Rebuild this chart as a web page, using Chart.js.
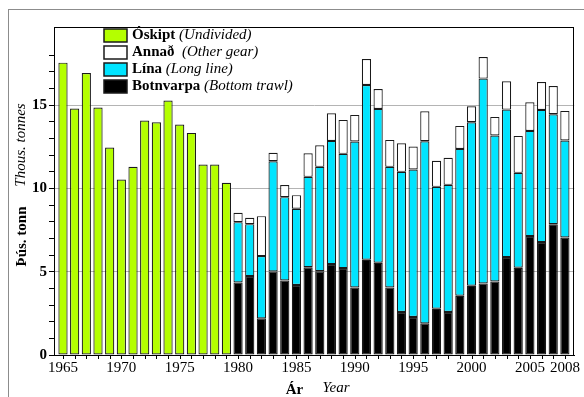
<!DOCTYPE html>
<html>
<head>
<meta charset="utf-8">
<script src="https://cdn.jsdelivr.net/npm/chart.js@4/dist/chart.umd.min.js"></script>
<style>
  html, body { margin: 0; padding: 0; background: #fff; }
  #wrap { position: relative; width: 584px; height: 397px; overflow: hidden; }
  #frame { position: absolute; left: 8px; top: 9px; width: 700px; height: 500px;
           border-left: 1px solid #8c8c8c; border-top: 1px solid #8c8c8c; }
  canvas { position: absolute; left: 0; top: 0; }
</style>
</head>
<body>
<div id="wrap">
  <div id="frame"></div>
  <canvas id="chart" width="584" height="397"></canvas>
</div>
<script>
// Ár / Year
const yearsOskipt = [1965, 1966, 1967, 1968, 1969, 1970, 1971, 1972, 1973, 1974, 1975, 1976, 1977, 1978, 1979];
const yearsGear = [1980, 1981, 1982, 1983, 1984, 1985, 1986, 1987, 1988, 1989, 1990, 1991, 1992, 1993, 1994,
                   1995, 1996, 1997, 1998, 1999, 2000, 2001, 2002, 2003, 2004, 2005, 2006, 2007, 2008];
const yearLabels = [1965, 1970, 1975, 1980, 1985, 1990, 1995, 2000, 2005, 2008];

// þús. tonn
const oskipt = [17.56, 14.80, 16.94, 14.86, 12.46, 10.54, 11.30, 14.08, 13.98, 15.28, 13.84, 13.34, 11.44, 11.44, 10.34];
const botnvarpa = [4.36, 4.74, 2.20, 5.02, 4.48, 4.20, 5.27, 5.03, 5.46, 5.22, 4.06, 5.72, 5.54, 4.06, 2.58,
                   2.28, 1.90, 2.78, 2.58, 3.56, 4.16, 4.30, 4.42, 5.88, 5.24, 7.14, 6.78, 7.86, 7.06];
const lina = [3.62, 3.12, 3.74, 6.62, 5.00, 4.58, 5.43, 6.27, 7.40, 6.86, 8.76, 10.50, 9.24, 7.24, 8.42,
              8.86, 10.94, 7.32, 7.64, 8.82, 9.82, 12.30, 8.76, 8.86, 5.70, 6.32, 7.94, 6.60, 5.82];
const annad = [0.56, 0.38, 2.40, 0.50, 0.73, 0.82, 1.42, 1.30, 1.66, 2.04, 1.60, 1.56, 1.20, 1.62, 1.72,
               1.38, 1.80, 1.56, 1.62, 1.38, 0.96, 1.30, 1.12, 1.70, 2.22, 1.72, 1.68, 1.70, 1.78];

const serif = "'Liberation Serif', 'Times New Roman', serif";
const edge = '#1a1a1a';
const allYears = yearsOskipt.concat(yearsGear);

function pts(xs, ys) {
  return xs.map((x, i) => ({ x: x, y: ys[i] }));
}

const legendItems = [
  { name: 'Óskipt', en: '(Undivided)', color: '#b4ff00' },
  { name: 'Annað', en: ' (Other gear)', color: '#ffffff' },
  { name: 'Lína', en: '(Long line)', color: '#00e4ff' },
  { name: 'Botnvarpa', en: '(Bottom trawl)', color: '#000000' }
];

// legend, titles, x tick marks and the frame of the plot
const decor = {
  id: 'decor',
  afterDraw(chart) {
    const ctx = chart.ctx;
    const a = chart.chartArea;
    const xs = chart.scales.x;
    ctx.save();
    ctx.strokeStyle = '#000';
    ctx.lineWidth = 1;
    ctx.strokeRect(Math.round(a.left) + 0.5, Math.round(a.top) + 0.5,
                   Math.round(a.right - a.left) - 1, Math.round(a.bottom - a.top));

    // tick marks below the x axis, one per year
    ctx.beginPath();
    allYears.forEach(yr => {
      const px = Math.round(xs.getPixelForValue(yr)) + 0.5;
      ctx.moveTo(px, a.bottom);
      ctx.lineTo(px, a.bottom + 4);
    });
    ctx.stroke();

    ctx.fillStyle = '#000';
    ctx.textBaseline = 'middle';
    legendItems.forEach((it, i) => {
      const cy = 35.5 + i * 17;
      ctx.fillStyle = it.color;
      ctx.fillRect(104, cy - 6.5, 23, 13);
      ctx.lineWidth = 1.5;
      ctx.strokeStyle = edge;
      ctx.strokeRect(104, cy - 6.5, 23, 13);
      ctx.fillStyle = '#000';
      ctx.textAlign = 'left';
      ctx.font = 'bold 15px ' + serif;
      ctx.fillText(it.name, 132, cy);
      const w = ctx.measureText(it.name + ' ').width;
      ctx.font = 'italic 15px ' + serif;
      ctx.fillText(it.en, 132 + w, cy);
    });

    // y title
    ctx.save();
    ctx.translate(21, 0);
    ctx.rotate(-Math.PI / 2);
    ctx.textAlign = 'center';
    ctx.font = 'bold 15px ' + serif;
    ctx.fillText('Þús. tonn', -236.5, 1);
    ctx.font = 'italic 15px ' + serif;
    ctx.fillText('Thous. tonnes', -145, 0);
    ctx.restore();

    // x title
    ctx.textAlign = 'center';
    ctx.font = 'bold 15px ' + serif;
    ctx.fillText('Ár', 294.5, 390);
    ctx.font = 'italic 15px ' + serif;
    ctx.fillText('Year', 336, 388);
    ctx.restore();
  }
};

const barStyle = { borderColor: edge, borderWidth: 1.2, borderSkipped: false, stack: 'a',
                   barPercentage: 0.79, categoryPercentage: 1 };

new Chart(document.getElementById('chart'), {
  type: 'bar',
  data: {
    datasets: [
      Object.assign({ label: 'Botnvarpa', data: pts(yearsGear, botnvarpa), backgroundColor: '#000000' }, barStyle),
      Object.assign({ label: 'Lína', data: pts(yearsGear, lina), backgroundColor: '#00e4ff' }, barStyle),
      Object.assign({ label: 'Annað', data: pts(yearsGear, annad), backgroundColor: '#ffffff' }, barStyle),
      Object.assign({ label: 'Óskipt', data: pts(yearsOskipt, oskipt), backgroundColor: '#b4ff00' }, barStyle)
    ]
  },
  options: {
    responsive: false,
    animation: false,
    devicePixelRatio: 1,
    layout: { padding: { top: 27, right: 6, bottom: 0, left: 0 } },
    plugins: { legend: { display: false }, tooltip: { enabled: false } },
    scales: {
      x: {
        type: 'linear',
        min: 1964.23,
        max: 2008.8,
        offset: false,
        border: { display: true, color: '#000', width: 1 },
        grid: { display: false, drawTicks: false },
        ticks: {
          autoSkip: false, maxRotation: 0, padding: 4, color: '#000',
          font: { family: serif, size: 15 },
          callback: v => String(v)
        },
        afterBuildTicks: s => { s.ticks = yearLabels.map(v => ({ value: v })); },
        afterFit: s => { s.height = 42; }
      },
      y: {
        stacked: true,
        min: 0,
        max: 19.7,
        border: { display: true, color: '#000', width: 1 },
        grid: {
          color: c => (c.tick && c.tick.value % 5 === 0 && c.tick.value > 0) ? '#b4b4b4' : 'rgba(0,0,0,0)',
          tickColor: '#000', tickLength: 5, lineWidth: 1
        },
        ticks: {
          stepSize: 1, autoSkip: false, padding: 2, color: '#000',
          font: { family: serif, size: 15, weight: 'bold' },
          callback: v => v % 5 === 0 ? String(v) : ''
        },
        afterBuildTicks: s => { s.ticks = s.ticks.filter(t => Number.isInteger(t.value)); },
        afterFit: s => { s.width = 54; }
      }
    }
  },
  plugins: [decor]
});
</script>
</body>
</html>
